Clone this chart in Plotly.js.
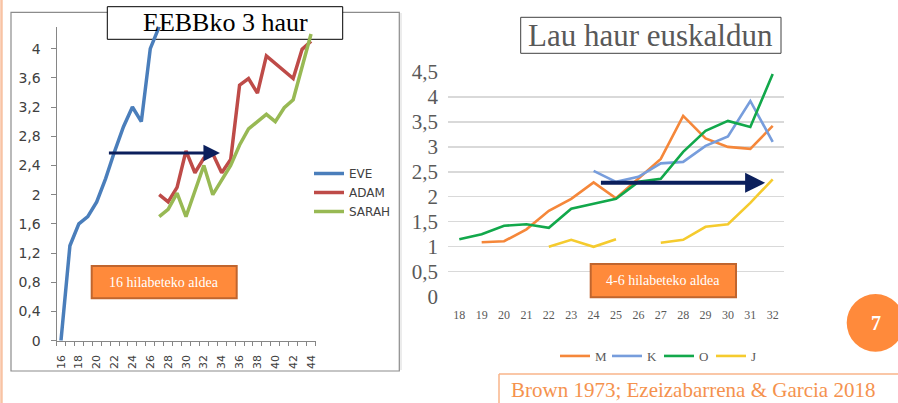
<!DOCTYPE html>
<html><head><meta charset="utf-8">
<script src="https://cdn.plot.ly/plotly-3.0.1.min.js"></script>
<style>html,body{margin:0;padding:0;background:#fff;}#chart{width:898px;height:403px;}</style>
</head><body><div id="chart"></div>
<script>
// ---- Left chart data (Brown 1973) ----
const eveMonths = [16,17,18,19,20,21,22,23,24,25,26,27];
const eve = [0,1.3,1.6,1.7,1.9,2.22,2.59,2.93,3.2,3.0,4.0,4.3];
const adamMonths = [27,28,29,30,31,32,33,34,35,36,37,38,39,40,41,42,43,44];
const adam = [2.0,1.9,2.1,2.6,2.3,2.5,2.56,2.3,2.48,3.5,3.59,3.39,3.9,3.8,3.7,3.59,3.99,4.1];
const sarah = [1.7,1.8,2.02,1.7,2.05,2.4,2.0,2.2,2.4,2.68,2.9,3.0,3.1,3.0,3.19,3.3,3.75,4.2];
const leftTickLabels = [16,18,20,22,24,26,28,30,32,34,36,38,40,42,44];
const leftArrow = {from: 21.2, to: 33.8, level: 2.57};

// ---- Right chart data (Ezeizabarrena & Garcia 2018) ----
const rightMonths = [18,19,20,21,22,23,24,25,26,27,28,29,30,31,32];
const M = [null,1.09,1.11,1.35,1.72,1.96,2.29,1.97,2.37,2.76,3.62,3.17,3.0,2.96,3.42];
const K = [null,null,null,null,null,null,2.52,2.30,2.40,2.67,2.70,3.02,3.21,3.92,3.10];
const O = [1.15,1.25,1.42,1.45,1.38,1.76,1.86,1.96,2.30,2.36,2.90,3.32,3.52,3.40,4.46];
const J = [null,null,null,null,1.00,1.14,1.00,1.15,null,1.08,1.14,1.40,1.45,1.88,2.35];
const rightArrow = {from: 24.26, to: 31.66, level: 2.28};

const W = 898, H = 403;
const PX = x => x / W;
const PY = y => 1 - y / H;

const sans = 'DejaVu Sans, sans-serif';
const serif = '"Liberation Serif", "DejaVu Serif", serif';

const traces = [
  {x: eveMonths, y: eve, name: 'EVE', mode: 'lines', xaxis: 'x', yaxis: 'y', line: {color: '#4A7EBB', width: 3.5}, legend: 'legend'},
  {x: adamMonths, y: adam, name: 'ADAM', mode: 'lines', xaxis: 'x', yaxis: 'y', line: {color: '#BE4B48', width: 3.5}, legend: 'legend'},
  {x: adamMonths, y: sarah, name: 'SARAH', mode: 'lines', xaxis: 'x', yaxis: 'y', line: {color: '#98B954', width: 3.5}, legend: 'legend'},
  {x: rightMonths, y: M, name: 'M', mode: 'lines', xaxis: 'x2', yaxis: 'y2', line: {color: '#F5873A', width: 2.6}, legend: 'legend2', connectgaps: false},
  {x: rightMonths, y: K, name: 'K', mode: 'lines', xaxis: 'x2', yaxis: 'y2', line: {color: '#779DDC', width: 2.6}, legend: 'legend2', connectgaps: false},
  {x: rightMonths, y: O, name: 'O', mode: 'lines', xaxis: 'x2', yaxis: 'y2', line: {color: '#12A84B', width: 2.6}, legend: 'legend2', connectgaps: false},
  {x: rightMonths, y: J, name: 'J', mode: 'lines', xaxis: 'x2', yaxis: 'y2', line: {color: '#F5CB2E', width: 2.6}, legend: 'legend2', connectgaps: false}
];

const orange = '#FF8A3B';
const shapes = [
  {type: 'line', xref: 'paper', yref: 'paper', x0: PX(1.5), x1: PX(1.5), y0: 0, y1: 1, line: {color: '#F8C3A4', width: 2.5}, layer: 'below'},
  {type: 'rect', xref: 'paper', yref: 'paper', x0: PX(11), x1: PX(399.3), y0: PY(371), y1: PY(12.3), line: {color: '#8C8C8C', width: 1.2}, layer: 'below'},
  {type: 'rect', xref: 'paper', yref: 'paper', x0: PX(107.3), x1: PX(342.7), y0: PY(39.3), y1: PY(6.7), line: {color: '#000', width: 1}, fillcolor: '#fff', layer: 'below'},
  {type: 'line', xref: 'paper', yref: 'paper', x0: PX(401), x1: PX(401), y0: PY(370), y1: PY(13), line: {color: '#D9D9D9', width: 1}, layer: 'below'},
  {type: 'rect', xref: 'paper', yref: 'paper', x0: PX(520.7), x1: PX(781), y0: PY(53.3), y1: PY(17.3), line: {color: '#404040', width: 1}, fillcolor: '#fff', layer: 'below'},
  {type: 'rect', xref: 'paper', yref: 'paper', x0: PX(91.7), x1: PX(236.7), y0: PY(298.3), y1: PY(266), line: {color: '#C0652E', width: 2}, fillcolor: orange},
  {type: 'rect', xref: 'paper', yref: 'paper', x0: PX(590.7), x1: PX(736), y0: PY(297.3), y1: PY(264), line: {color: '#C0652E', width: 2}, fillcolor: orange},
  {type: 'circle', xref: 'paper', yref: 'paper', x0: PX(846.7), x1: PX(904.3), y0: PY(351.7), y1: PY(294), line: {width: 0}, fillcolor: orange},
  {type: 'line', xref: 'paper', yref: 'paper', x0: PX(499), x1: PX(499), y0: 0, y1: PY(374), line: {color: '#F9B58A', width: 1.5}},
  {type: 'line', xref: 'paper', yref: 'paper', x0: PX(499), x1: 1, y0: PY(374), y1: PY(374), line: {color: '#F9B58A', width: 1.5}}
];

const txt = (x, y, text, font, xanchor) => ({xref: 'paper', yref: 'paper', x: PX(x), y: PY(y), text: text, showarrow: false, xanchor: xanchor || 'center', yanchor: 'middle', font: font});

const annotations = [
  txt(225, 23, 'EEBBko 3 haur', {family: serif, size: 26, color: '#000'}),
  txt(650.8, 35.3, 'Lau haur euskaldun', {family: serif, size: 31, color: '#595959'}),
  txt(164.2, 282, '16 hilabeteko aldea', {family: serif, size: 14, color: '#fff'}),
  txt(663.3, 280.7, '4-6 hilabeteko aldea', {family: serif, size: 14, color: '#fff'}),
  txt(875.5, 323, '<b>7</b>', {family: serif, size: 20, color: '#fff'}),
  txt(509, 390, 'Brown 1973; Ezeizabarrena &amp; Garcia 2018', {family: serif, size: 21, color: '#F5924E'}, 'left'),
  {xref: 'x', yref: 'y', axref: 'x', ayref: 'y', x: leftArrow.to, y: leftArrow.level, ax: leftArrow.from, ay: leftArrow.level, text: '', showarrow: true, arrowhead: 2, arrowsize: 1.1, arrowwidth: 3, arrowcolor: '#0B1F5C', standoff: 0},
  {xref: 'x2', yref: 'y2', axref: 'x2', ayref: 'y2', x: rightArrow.to, y: rightArrow.level, ax: rightArrow.from, ay: rightArrow.level, text: '', showarrow: true, arrowhead: 2, arrowsize: 1, arrowwidth: 4, arrowcolor: '#0B1F5C', standoff: 0}
];

const layout = {
  width: W, height: H,
  margin: {l: 0, r: 0, t: 0, b: 0, autoexpand: false},
  paper_bgcolor: '#fff', plot_bgcolor: 'rgba(0,0,0,0)',
  separators: ',.',
  showlegend: true,
  xaxis: {
    domain: [PX(56.5), PX(315.5)], range: [15.5, 44.5], anchor: 'y',
    tickmode: 'array', tickvals: leftTickLabels, ticktext: leftTickLabels.map(String),
    tickangle: -90, ticks: '', ticklabelstandoff: 9,
    minor: {ticks: 'outside', tickmode: 'linear', tick0: 15.5, dtick: 1, ticklen: 4, tickcolor: '#868686', showgrid: false},
    showline: true, linecolor: '#868686', linewidth: 1, showgrid: false, zeroline: false,
    tickfont: {family: sans, size: 11, color: '#404040'}
  },
  yaxis: {
    domain: [PY(340.7), PY(26.7)], range: [0, 4.3], anchor: 'x',
    tickmode: 'linear', tick0: 0, dtick: 0.4,
    ticks: 'outside', ticklen: 5, tickcolor: '#868686', ticklabelstandoff: 7,
    showline: true, linecolor: '#868686', linewidth: 1, showgrid: false, zeroline: false,
    tickfont: {family: sans, size: 14, color: '#404040'}
  },
  xaxis2: {
    domain: [PX(448.1), PX(783.9)], range: [17.5, 32.5], anchor: 'y2',
    tickmode: 'linear', tick0: 18, dtick: 1, ticks: '', ticklabelstandoff: 9,
    showline: false, showgrid: false, zeroline: false,
    tickfont: {family: serif, size: 12, color: '#595959'}
  },
  yaxis2: {
    domain: [PY(296.7), PY(72)], range: [0, 4.5], anchor: 'x2',
    tickmode: 'linear', tick0: 0, dtick: 0.5, ticks: '', ticklabelstandoff: 9,
    showline: false, showgrid: true, gridcolor: '#D9D9D9', gridwidth: 1.3, zeroline: false,
    tickfont: {family: serif, size: 21, color: '#595959'}
  },
  legend: {
    x: PX(309), xanchor: 'left', y: PY(159), yanchor: 'top',
    bgcolor: 'rgba(0,0,0,0)', borderwidth: 0, tracegroupgap: 0,
    font: {family: sans, size: 12, color: '#404040'}
  },
  legend2: {
    orientation: 'h', x: PX(555), xanchor: 'left', y: PY(341), yanchor: 'top',
    bgcolor: 'rgba(0,0,0,0)', borderwidth: 0, entrywidth: 7, entrywidthmode: 'pixels',
    font: {family: serif, size: 13, color: '#595959'}
  },
  shapes: shapes,
  annotations: annotations
};

Plotly.newPlot('chart', traces, layout, {staticPlot: true, displayModeBar: false});
</script>
</body></html>
